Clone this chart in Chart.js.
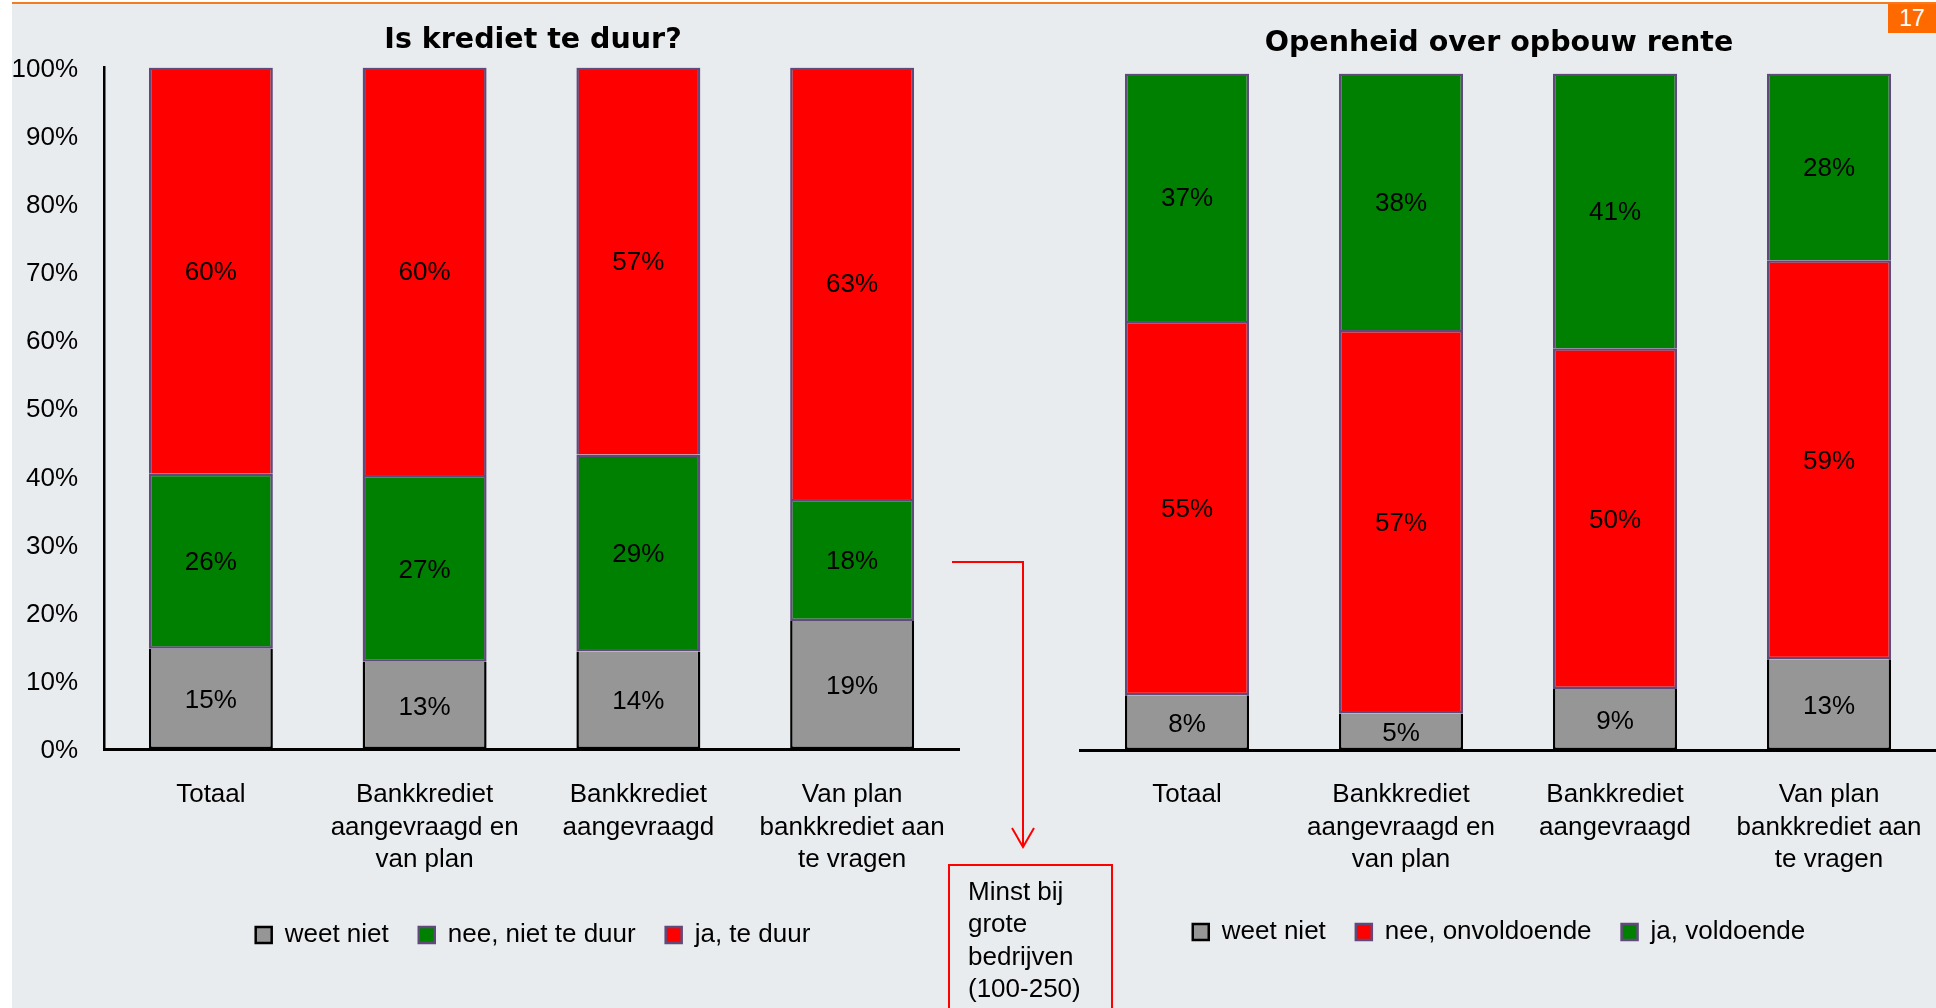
<!DOCTYPE html>
<html>
<head>
<meta charset="utf-8">
<title>Is krediet te duur? / Openheid over opbouw rente</title>
<script src="https://cdn.jsdelivr.net/npm/chart.js@4.4.1/dist/chart.umd.min.js"></script>
<style>
  html, body { margin: 0; padding: 0; background: #fff; }
  #page { position: relative; width: 1936px; height: 1008px; overflow: hidden; background: #fff; }
  #panel { position: absolute; left: 12px; top: 2px; right: 0; bottom: 0; background: #e9ecee; border-top: 2px solid #f47b20; }
  #left-chart { position: absolute; left: 0; top: 0; }
  #right-chart { position: absolute; left: 1042px; top: 0; }
  #page-num {
    position: absolute; left: 1888px; top: 4px; width: 48px; height: 29px;
    background: #ff6a00; color: #fff; font: 23px "Liberation Sans", Arial, sans-serif;
    line-height: 29px; text-align: center;
  }
  #arrow { position: absolute; left: 0; top: 0; pointer-events: none; }
  #note {
    position: absolute; left: 948px; top: 864px; width: 165px; height: 170px;
    box-sizing: border-box; border: 2px solid #ff0000; padding: 9px 0 0 18px;
    font: 26px "Liberation Sans", Arial, sans-serif; line-height: 32.3px; color: #000;
  }
</style>
</head>
<body>
<div id="page">
  <div id="panel"></div>
  <canvas id="left-chart" width="1066" height="1008"></canvas>
  <canvas id="right-chart" width="914" height="1008"></canvas>
  <div id="page-num">17</div>
  <svg id="arrow" width="1936" height="1008">
    <polyline points="952,562 1023,562 1023,847" fill="none" stroke="#ff0000" stroke-width="2"/>
    <polyline points="1012,828 1023,847 1034,828" fill="none" stroke="#ff0000" stroke-width="2"/>
  </svg>
  <div id="note">Minst bij<br>grote<br>bedrijven<br>(100-250)</div>
</div>
<script>
// data (percentages per group)
const categories = ['Totaal', ['Bankkrediet', 'aangevraagd en', 'van plan'], ['Bankkrediet', 'aangevraagd'], ['Van plan', 'bankkrediet aan', 'te vragen']];

const duurWeetNiet = [14.7, 12.8, 14.3, 18.8];
const duurNee = [25.7, 27.4, 28.9, 17.9];
const duurJa = [59.6, 59.8, 56.8, 63.3];

const renteWeetNiet = [8.1, 5.4, 9.0, 13.4];
const renteNee = [55.3, 56.7, 50.4, 59.0];
const renteJa = [36.6, 37.9, 40.6, 27.6];

const yMax = 100;
const yStep = 10;

const GRAY = '#969696', GREEN = '#008000', RED = '#ff0000', PURPLE = '#604a7b';
const FONT = '"Liberation Sans", Arial, sans-serif';

Chart.defaults.font.family = FONT;
Chart.defaults.color = '#000';

// percentage text in the middle of every bar segment
const barLabels = {
    id: 'barLabels',
    afterDatasetsDraw(chart) {
        const ctx = chart.ctx;
        ctx.save();
        ctx.font = '26px ' + FONT;
        ctx.fillStyle = '#000';
        ctx.textAlign = 'center';
        ctx.textBaseline = 'middle';
        chart.data.datasets.forEach((ds, i) => {
            chart.getDatasetMeta(i).data.forEach((bar, j) => {
                ctx.fillText(Math.round(ds.data[j]) + '%', bar.x, (bar.y + bar.base) / 2 + 2);
            });
        });
        ctx.restore();
    }
};

function makeChart(id, opts) {
    return new Chart(document.getElementById(id), {
        type: 'bar',
        data: { labels: categories, datasets: opts.datasets },
        options: {
            responsive: false,
            animation: false,
            layout: { padding: { left: 0, top: 0, right: 0, bottom: opts.bottomPad } },
            datasets: { bar: { categoryPercentage: 1, barPercentage: 0.58, borderWidth: 2.5 } },
            plugins: {
                tooltip: { enabled: false },
                title: {
                    display: true,
                    text: opts.title,
                    color: '#000',
                    font: { family: '"DejaVu Sans", sans-serif', size: 28.5, weight: 'bold', lineHeight: 1.2 },
                    padding: opts.titlePad
                },
                legend: {
                    position: 'bottom',
                    labels: { boxWidth: 16, boxHeight: 16, padding: 30, color: '#000', font: { size: 26 } }
                }
            },
            scales: {
                x: {
                    stacked: true,
                    afterFit: s => { s.height = opts.xHeight; },
                    grid: { display: false, drawTicks: false },
                    border: { display: true, color: '#000', width: 3, z: 1 },
                    ticks: { autoSkip: false, maxRotation: 0, padding: opts.xPad, color: '#000', font: { size: 26, lineHeight: 1.25 } }
                },
                y: {
                    stacked: true,
                    display: opts.showY,
                    min: 0,
                    max: yMax,
                    afterFit: s => { s.width = opts.yWidth; },
                    grid: { display: false, drawTicks: false },
                    border: { display: opts.showY, color: '#000', width: 2.5 },
                    ticks: { stepSize: yStep, padding: 26, labelOffset: 2, color: '#000', font: { size: 26 }, callback: v => v + '%' }
                },
                // empty spacer on the right so title and legend centre like on the slide
                spacer: {
                    type: 'linear',
                    position: 'right',
                    display: false,
                    afterFit: s => { s.width = opts.rightWidth; }
                }
            }
        },
        plugins: [barLabels]
    });
}

makeChart('left-chart', {
    title: 'Is krediet te duur?',
    titlePad: { top: 23.4, bottom: 9.9 },
    bottomPad: 50,
    yWidth: 104,
    rightWidth: 107,
    xHeight: 143,
    xPad: 30,
    showY: true,
    datasets: [
        { label: 'weet niet', data: duurWeetNiet, backgroundColor: GRAY, borderColor: '#000', borderSkipped: 'top' },
        { label: 'nee, niet te duur', data: duurNee, backgroundColor: GREEN, borderColor: PURPLE, borderSkipped: false },
        { label: 'ja, te duur', data: duurJa, backgroundColor: RED, borderColor: PURPLE, borderSkipped: 'bottom' }
    ]
});

makeChart('right-chart', {
    title: 'Openheid over opbouw rente',
    titlePad: { top: 26.4, bottom: 12.9 },
    bottomPad: 53,
    yWidth: 38,
    rightWidth: 20,
    xHeight: 139,
    xPad: 29,
    showY: false,
    datasets: [
        { label: 'weet niet', data: renteWeetNiet, backgroundColor: GRAY, borderColor: '#000', borderSkipped: 'top' },
        { label: 'nee, onvoldoende', data: renteNee, backgroundColor: RED, borderColor: PURPLE, borderSkipped: false },
        { label: 'ja, voldoende', data: renteJa, backgroundColor: GREEN, borderColor: PURPLE, borderSkipped: 'bottom' }
    ]
});
</script>
</body>
</html>
